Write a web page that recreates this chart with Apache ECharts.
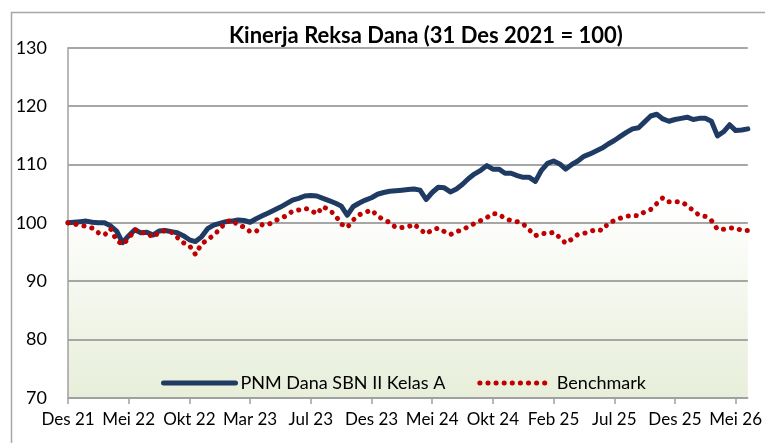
<!DOCTYPE html>
<html>
<head>
<meta charset="utf-8">
<script src="https://cdn.jsdelivr.net/npm/echarts@6/dist/echarts.min.js"></script>
<style>
  html, body { margin: 0; padding: 0; background: #fff; }
  #chart { width: 765px; height: 443px; }
</style>
</head>
<body>
<div id="chart"></div>
<script>
// tick labels on the x axis (one every 10 points)
var xLabels = ['Des 21', 'Mei 22', 'Okt 22', 'Mar 23', 'Jul 23', 'Des 23',
  'Mei 24', 'Okt 24', 'Feb 25', 'Jul 25', 'Des 25', 'Mei 26'];

// PNM Dana SBN II Kelas A (index, 31 Des 2021 = 100)
var fund = [
  100.0, 100.1, 100.2, 100.3, 100.1, 100.0, 100.0, 99.5, 98.6, 96.6,
  97.8, 98.8, 98.3, 98.4, 97.9, 98.6, 98.7, 98.5, 98.3, 97.8,
  97.1, 96.8, 97.6, 99.0, 99.6, 99.9, 100.2, 100.3, 100.5, 100.4,
  100.1, 100.7, 101.2, 101.7, 102.2, 102.7, 103.3, 103.9, 104.2, 104.6,
  104.7, 104.6, 104.2, 103.8, 103.4, 102.9, 101.3, 102.8, 103.4, 103.9,
  104.3, 104.9, 105.2, 105.4, 105.5, 105.6, 105.7, 105.8, 105.6, 104.0,
  105.2, 106.1, 106.0, 105.3, 105.8, 106.6, 107.6, 108.4, 109.0, 109.8,
  109.2, 109.2, 108.5, 108.5, 108.1, 107.8, 107.8, 107.1, 109.0, 110.2,
  110.6, 110.1, 109.2, 110.0, 110.6, 111.4, 111.8, 112.3, 112.8, 113.5,
  114.1, 114.8, 115.5, 116.1, 116.3, 117.3, 118.3, 118.6, 117.8, 117.4,
  117.7, 117.9, 118.1, 117.7, 117.9, 117.9, 117.4, 114.9, 115.6, 116.8,
  115.8, 115.9, 116.1
];

// Benchmark
var benchmark = [
  100.0, 99.8, 99.6, 99.4, 99.1, 98.3, 97.9, 99.0, 97.0, 96.3,
  97.3, 98.9, 98.3, 98.3, 97.5, 98.4, 98.7, 98.4, 97.5, 96.6,
  96.1, 94.6, 96.4, 97.1, 97.9, 98.9, 100.1, 100.5, 99.6, 99.3,
  98.5, 98.5, 99.7, 99.7, 100.3, 100.8, 101.2, 102.0, 102.2, 102.5,
  102.2, 101.5, 102.8, 102.2, 101.4, 99.8, 99.2, 100.5, 101.4, 101.8,
  102.2, 101.2, 100.5, 100.1, 99.2, 99.2, 99.3, 99.8, 98.9, 98.1,
  98.8, 99.1, 98.5, 98.0, 98.5, 98.8, 99.4, 99.9, 100.4, 100.9,
  101.6, 101.5, 100.7, 100.4, 100.2, 99.8, 98.8, 97.8, 98.2, 98.1,
  98.4, 97.5, 96.5, 97.2, 98.0, 98.2, 98.5, 98.9, 98.7, 99.9,
  100.4, 100.8, 101.1, 101.3, 101.2, 101.9, 102.3, 103.3, 104.3, 103.6,
  103.6, 103.6, 103.0, 102.1, 101.3, 101.1, 100.4, 98.9, 98.9, 99.1,
  99.1, 98.7, 98.7
];

var categories = fund.map(function (v, i) {
  return i % 10 === 0 ? xLabels[i / 10] : '';
});

var FONT = 'Lato, "Open Sans", sans-serif';

var chart = echarts.init(document.getElementById('chart'));

chart.setOption({
  backgroundColor: '#ffffff',
  animation: false,
  title: {
    text: 'Kinerja Reksa Dana (31 Des 2021 = 100)',
    left: 224,
    top: 20,
    textStyle: { fontFamily: FONT, fontSize: 22, fontWeight: 'bold', color: '#000' }
  },
  graphic: [{
    type: 'rect',
    silent: true,
    shape: { x: 11.5, y: 12.5, width: 800, height: 500 },
    style: { fill: 'none', stroke: '#a6a6a6', lineWidth: 1.5 }
  }],
  legend: {
    left: 156,
    top: 369,
    itemWidth: 72,
    itemHeight: 14,
    itemGap: 32,
    itemStyle: { opacity: 0 },
    lineStyle: { width: 5 },
    textStyle: { fontFamily: FONT, fontSize: 18, color: '#000' },
    data: ['PNM Dana SBN II Kelas A', 'Benchmark']
  },
  grid: {
    left: 68,
    right: 9,
    top: 47.7,
    bottom: 45,
    show: true,
    borderWidth: 0,
    backgroundColor: new echarts.graphic.LinearGradient(0, 0, 0, 1, [
      { offset: 0, color: '#ffffff' },
      { offset: 0.45, color: '#ffffff' },
      { offset: 1, color: '#e7eed9' }
    ])
  },
  xAxis: {
    type: 'category',
    data: categories,
    boundaryGap: false,
    axisLine: { lineStyle: { color: '#a0a0a0', width: 1.5 } },
    axisTick: { show: true, interval: 9, length: 6, lineStyle: { color: '#a0a0a0', width: 1.5 } },
    axisLabel: { interval: 9, margin: 13, fontFamily: FONT, fontSize: 17, color: '#000' },
    splitLine: { show: false }
  },
  yAxis: {
    type: 'value',
    min: 70,
    max: 130,
    interval: 10,
    axisLine: { show: true, lineStyle: { color: '#a0a0a0', width: 1.5 } },
    axisTick: { show: false },
    axisLabel: { margin: 21, fontFamily: FONT, fontSize: 18, color: '#000' },
    splitLine: { lineStyle: { color: '#a6a6a6', width: 2 } }
  },
  series: [
    {
      name: 'PNM Dana SBN II Kelas A',
      type: 'line',
      data: fund,
      symbol: 'none',
      z: 3,
      lineStyle: { color: '#1f3b63', width: 5, cap: 'round', join: 'round' },
      itemStyle: { color: '#1f3b63' }
    },
    {
      name: 'Benchmark',
      type: 'line',
      data: benchmark,
      symbol: 'none',
      z: 4,
      lineStyle: { color: '#c00000', width: 5, type: [0.1, 8], cap: 'round' },
      itemStyle: { color: '#c00000' }
    }
  ]
});
</script>
</body>
</html>
